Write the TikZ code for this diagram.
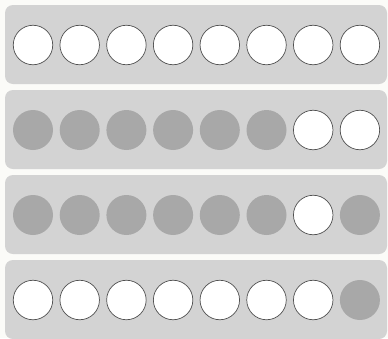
\documentclass[tikz,border=0pt]{standalone}
\usetikzlibrary{positioning}
\definecolor{paper}{HTML}{FBFBF8}
\definecolor{tray}{HTML}{D3D3D3}
\definecolor{full}{HTML}{A8A8A8}
\definecolor{rim}{HTML}{505050}
\tikzset{
  trayblk/.style={fill=tray, rounded corners=8pt, minimum width=382pt, minimum height=79pt,
                  inner sep=0pt, draw=none},
  emptyc/.style={circle, draw=rim, line width=0.7pt, fill=white, minimum size=39.5pt, inner sep=0pt},
  fullc/.style={circle, draw=none, fill=full, minimum size=40pt, inner sep=0pt},
}
\begin{document}
\begin{tikzpicture}[x=1pt,y=-1pt]
  % page
  \fill[paper] (0,0) rectangle (388,338);
  \useasboundingbox (0,0) rectangle (388,338);
  % trays, 0 = empty, 1 = filled
  \foreach \r/\pat in {1/{0,0,0,0,0,0,0,0},
                       2/{1,1,1,1,1,1,0,0},
                       3/{1,1,1,1,1,1,0,1},
                       4/{0,0,0,0,0,0,0,1}}{
    \node[trayblk] (tray-\r) at (196,{44.5+(\r-1)*85}) {};
    \foreach \v [count=\i] in \pat{
      \ifnum\v=1
        \node[fullc] (c-\r-\i) at ({33+(\i-1)*46.7},{45+(\r-1)*85}) {};
      \else
        \node[emptyc] (c-\r-\i) at ({33+(\i-1)*46.7},{45+(\r-1)*85}) {};
      \fi
    }
  }
\end{tikzpicture}
\end{document}
